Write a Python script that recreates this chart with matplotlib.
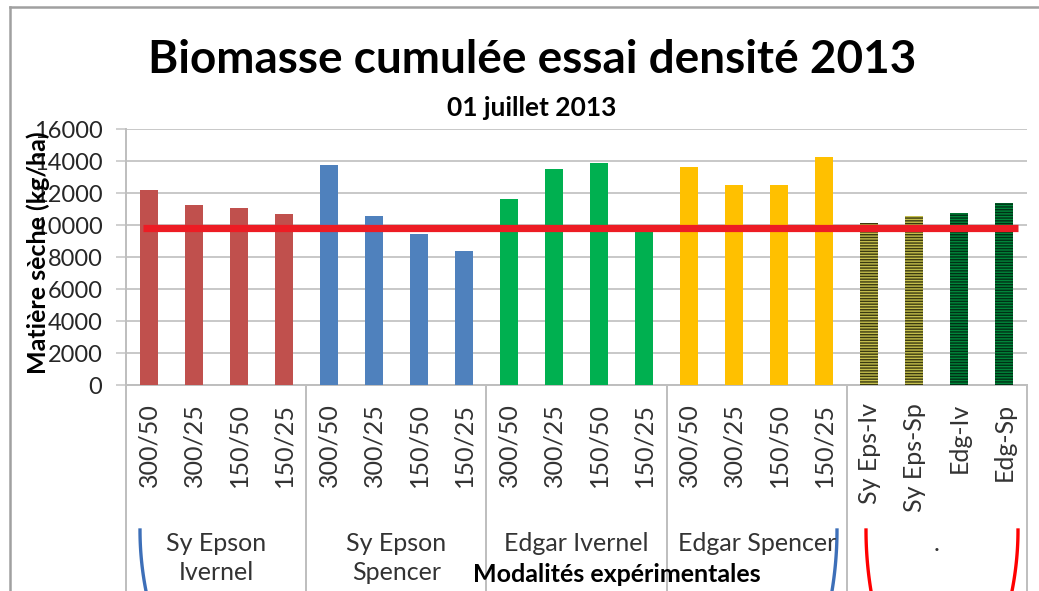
import matplotlib
matplotlib.use('Agg')
import matplotlib.pyplot as plt
from matplotlib.transforms import blended_transform_factory
from matplotlib.lines import Line2D
import numpy as np

plt.rcParams['font.family'] = ['Lato', 'DejaVu Sans']
plt.rcParams['hatch.linewidth'] = 1.0

# ---------------- data ----------------
title = "Biomasse cumulée essai densité 2013"
subtitle = "01 juillet 2013"
y_label = "Matière sèche (kg/ha)"
x_label = "Modalités expérimentales"

group_labels = ["Sy Epson\nIvernel", "Sy Epson\nSpencer", "Edgar Ivernel", "Edgar Spencer", "."]
tick_labels = ["300/50", "300/25", "150/50", "150/25",
               "300/50", "300/25", "150/50", "150/25",
               "300/50", "300/25", "150/50", "150/25",
               "300/50", "300/25", "150/50", "150/25",
               "Sy Eps-Iv", "Sy Eps-Sp", "Edg-Iv", "Edg-Sp"]

sy_epson_ivernel = [12200, 11250, 11050, 10700]
sy_epson_spencer = [13750, 10550, 9450, 8350]
edgar_ivernel = [11600, 13500, 13900, 9850]
edgar_spencer = [13600, 12500, 12500, 14250]
associations = [10100, 10550, 10750, 11350]
reference_level = 9800

y_ticks = [0, 2000, 4000, 6000, 8000, 10000, 12000, 14000, 16000]

# ---------------- style ----------------
group_colors = ["#C0504D", "#4F81BD", "#00B050", "#FFC000"]
assoc_face = ["#C4BE4C", "#C4BE4C", "#00863A", "#00863A"]
assoc_hatch = ["#3A3A10", "#3A3A10", "#003015", "#003015"]

values = sy_epson_ivernel + sy_epson_spencer + edgar_ivernel + edgar_spencer + associations
n = len(values)
x = np.arange(n)

W, H = 1039, 591
fig = plt.figure(figsize=(W / 100, H / 100), dpi=100)
ax = fig.add_axes([126 / W, 1 - 385 / H, 901 / W, 256 / H])

bar_w = 0.4
for g, col in enumerate(group_colors):
    idx = x[g * 4:(g + 1) * 4]
    ax.bar(idx, values[g * 4:(g + 1) * 4], width=bar_w, color=col, linewidth=0, zorder=3)
for k in range(4):
    i = 16 + k
    ax.bar(x[i], values[i], width=bar_w, facecolor=assoc_face[k], edgecolor=assoc_hatch[k],
           hatch='------', linewidth=0, zorder=3)

# reference line
ax.plot([-0.13, n - 0.7], [reference_level, reference_level], color="#ED1C24", lw=5.2,
        solid_capstyle='butt', zorder=4)

ax.set_xlim(-0.5, n - 0.5)
ax.set_ylim(0, 16000)
ax.set_yticks(y_ticks)
ax.set_yticklabels([str(v) for v in y_ticks], fontsize=17, color="#262626")
ax.yaxis.grid(True, color="#C8C8C8", lw=1.4, zorder=0)
ax.set_axisbelow(True)
ax.tick_params(axis='y', length=7, width=1.2, color="#C8C8C8", pad=10)

ax.set_xticks(x)
ax.set_xticklabels(tick_labels, rotation=90, fontsize=18, color="#333333", va='top')
ax.tick_params(axis='x', length=0, pad=13)

for s in ['top', 'right']:
    ax.spines[s].set_visible(False)
ax.spines['left'].set_color("#BEBEBE")
ax.spines['left'].set_linewidth(1.4)
ax.spines['bottom'].set_color("#BEBEBE")
ax.spines['bottom'].set_linewidth(1.4)

# group separators extending down
tr = blended_transform_factory(ax.transData, fig.transFigure)
for b in [-0.5, 3.5, 7.5, 11.5, 15.5, 19.5]:
    ax.add_line(Line2D([b, b], [1 - 385 / H, 0], transform=tr, color="#BEBEBE", lw=1.4, clip_on=False))

group_centers = [1.5, 5.5, 9.5, 13.5, 17.5]
for c, lab in zip(group_centers, group_labels):
    fig.text(c, 1 - 532 / H, lab, transform=tr, ha='center', va='top', fontsize=18,
             color="#333333", linespacing=1.3)

fig.text(532 / W, 1 - 60 / H, title, ha='center', va='center', fontsize=33, fontweight='bold', color="#000000")
fig.text(532 / W, 1 - 108 / H, subtitle, ha='center', va='center', fontsize=19, fontweight='bold', color="#000000")
fig.text(38 / W, 1 - 253 / H, y_label, ha='center', va='center', rotation=90, fontsize=18,
         fontweight='bold', color="#000000")
fig.text(617 / W, 1 - 575 / H, x_label, ha='center', va='center', fontsize=18, fontweight='bold', color="#000000")

# frame
fig.add_artist(Line2D([10 / W, 10 / W], [0, 1 - 7 / H], color="#A0A0A0", lw=1.8))
fig.add_artist(Line2D([10 / W, 1], [1 - 7 / H, 1 - 7 / H], color="#A0A0A0", lw=1.8))

# hand-drawn brackets
yy = np.linspace(530, 591, 40)
t = (yy - 530) / 61.0
def bracket(x0, dx, color):
    xs = x0 + dx * t ** 2
    fig.add_artist(Line2D(xs / W, 1 - yy / H, color=color, lw=2.4))
bracket(140, 6, "#3D6FB8")
bracket(837, -5, "#3D6FB8")
bracket(866, 5, "#FF0000")
bracket(1018, -6, "#FF0000")

fig.savefig("out.png", dpi=100)
